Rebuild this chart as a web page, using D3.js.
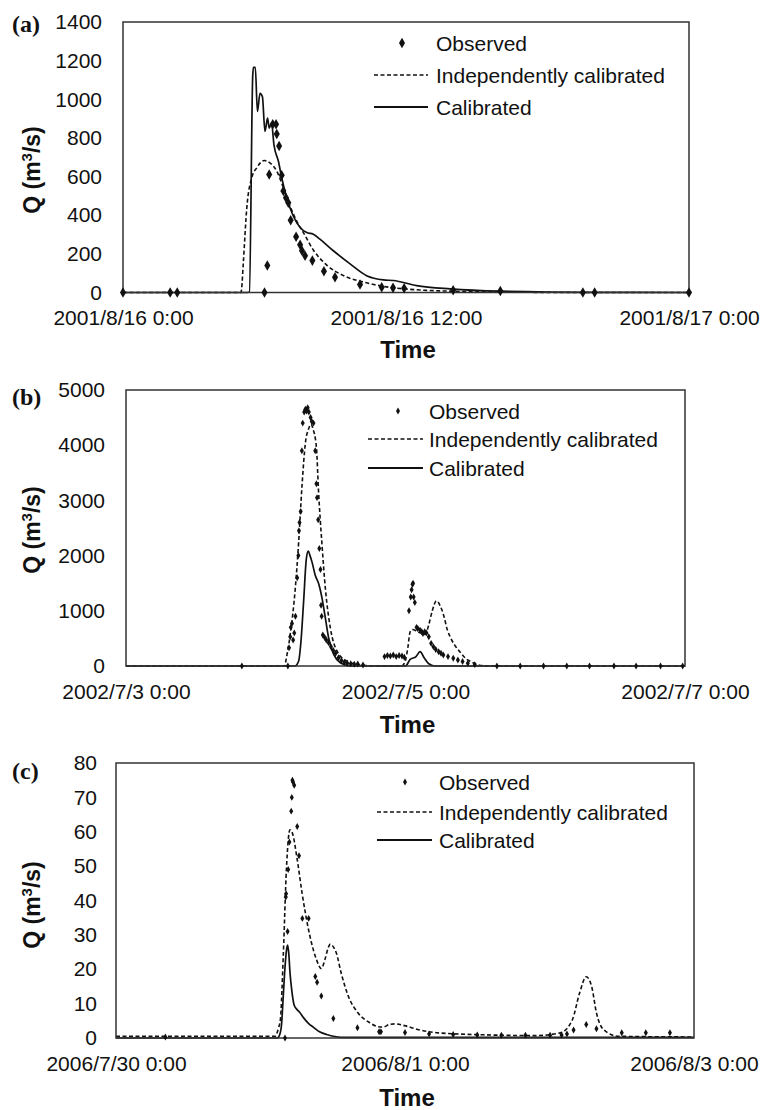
<!DOCTYPE html>
<html><head><meta charset="utf-8">
<script src="https://cdn.jsdelivr.net/npm/d3@7"></script>
<style>body{margin:0;background:#fff}svg{display:block}text{fill:#111}</style>
</head><body>
<script>
// ---------- Panel (a) ----------
const aTickLabels = ["2001/8/16 0:00", "2001/8/16 12:00", "2001/8/17 0:00"];
const aTickHours = [0, 12, 24];
const aYTicks = [0, 200, 400, 600, 800, 1000, 1200, 1400];
const aObsT = [0, 2.0, 2.3, 6.0, 6.12, 6.2, 6.35, 6.49, 6.52, 6.62, 6.73, 6.8, 6.91, 7.01, 7.11, 7.34, 7.51, 7.59, 7.72, 8.03, 8.52, 8.99, 10.05, 10.97, 11.45, 11.92, 14.0, 16.0, 19.5, 20.0, 24];
const aObsQ = [0, 0, 0, 0, 140, 611, 871, 871, 820, 758, 607, 525, 490, 465, 374, 288, 247, 216, 190, 165, 110, 79, 41, 27, 24, 22, 12, 8, 0, 0, 0];
const aIndT = [0, 5.0, 5.03, 5.1, 5.25, 5.46, 5.67, 5.99, 6.23, 6.52, 6.8, 7.08, 7.36, 7.65, 8.07, 8.64, 9.34, 10.33, 11.18, 12.45, 13.87, 16, 20, 24];
const aIndQ = [0, 0, 19, 150, 439, 594, 645, 683, 671, 628, 542, 448, 371, 310, 220, 142, 88, 50, 29, 14, 7, 2, 0, 0];
const aCalT = [0, 5.3, 5.36, 5.5, 5.53, 5.61, 5.7, 5.81, 5.91, 6.02, 6.13, 6.2, 6.3, 6.4, 6.59, 6.73, 6.94, 7.22, 7.51, 7.79, 8.07, 8.35, 8.92, 9.63, 10.33, 11.04, 11.46, 12.45, 13.87, 16, 20, 24];
const aCalQ = [0, 0, 2, 1120, 1165, 1165, 937, 1031, 1014, 834, 902, 851, 877, 765, 679, 594, 490, 396, 336, 310, 302, 276, 216, 148, 87, 65, 62, 36, 19, 7, 1, 0];

// ---------- Panel (b) ----------
const bTickLabels = ["2002/7/3 0:00", "2002/7/5 0:00", "2002/7/7 0:00"];
const bTickHours = [0, 48, 96];
const bYTicks = [0, 1000, 2000, 3000, 4000, 5000];
const bObsT = [19.9, 27.8, 28.0, 28.2, 28.3, 28.5, 28.7, 28.9, 29.1, 29.4, 29.6, 29.7, 29.8, 30.0, 30.2, 30.35, 30.6, 30.8, 31.0, 31.2, 31.4, 31.7, 31.9, 32.2, 32.5, 32.7, 32.8, 33.0, 33.2, 33.4, 33.5, 33.6, 33.8, 34.1, 34.4, 34.8, 35.2, 35.6, 36.0, 36.5, 37.0, 37.5, 38.0, 38.6, 39.2, 39.8, 40.7,
  44.4, 44.9, 45.4, 45.9, 46.4, 46.9, 47.4, 47.8, 48.6, 48.9, 49.05, 49.2, 49.3, 49.4, 49.6, 49.9, 50.1, 50.5, 50.8, 51.0, 51.3, 51.6, 52.0, 52.4, 52.8, 53.2, 53.7, 54.1, 54.5, 55.3, 56.2, 57.0, 57.8, 58.7, 59.9, 63.7, 67.7, 71.7, 75.7, 79.6, 83.8, 87.6, 91.8, 95.6];
const bObsQ = [0, 0, 330, 530, 700, 770, 470, 600, 900, 1600, 2000, 2450, 2600, 2800, 3900, 4400, 4600, 4650, 4620, 4680, 4600, 4500, 4430, 4400, 3900, 3300, 3050, 2650, 2130, 1750, 1100, 900, 560, 520, 470, 420, 350, 280, 230, 150, 100, 70, 50, 40, 30, 35, 20,
  170, 190, 180, 200, 170, 190, 180, 160, 1000, 1250, 1380, 1480, 1500, 1250, 1150, 700, 680, 650, 620, 590, 620, 600, 530, 410, 350, 300, 260, 230, 200, 170, 140, 110, 80, 50, 25, 0, 0, 0, 0, 0, 0, 0, 0, 0];
const bIndT = [0, 27.3, 27.35, 28.2, 29.07, 29.65, 30.22, 30.8, 31.37, 31.8, 32.1, 32.69, 33.08, 33.67, 34.24, 35.1, 36.25, 37.97, 40.8, 43, 47.3, 47.6, 48.0, 48.4, 48.8, 49.2, 49.8, 50.5, 51.4, 52.0, 52.6, 53.3, 54.0, 54.6, 55.2, 55.8, 56.5, 57.4, 58.3, 59.2, 60.2, 61.5, 63, 96];
const bIndQ = [0, 0, 30, 568, 1403, 2240, 3256, 4032, 4300, 4380, 4300, 3973, 3136, 2181, 1403, 686, 269, 90, 12, 0, 0, 20, 100, 330, 620, 660, 640, 600, 570, 750, 1000, 1180, 1080, 900, 650, 500, 370, 250, 140, 80, 30, 5, 0, 0];
const bCalT = [0, 29.0, 29.65, 30.05, 30.5, 30.97, 31.3, 31.6, 31.95, 32.5, 33.08, 33.67, 34.24, 34.8, 35.67, 36.8, 38.5, 48, 48.8, 49.8, 50.5, 51.2, 52, 53, 96];
const bCalQ = [0, 0, 90, 448, 1165, 1940, 2080, 2000, 1882, 1643, 1493, 1224, 866, 507, 210, 60, 0, 0, 120, 170, 260, 150, 40, 0, 0];

// ---------- Panel (c) ----------
const cTickLabels = ["2006/7/30 0:00", "2006/8/1 0:00", "2006/8/3 0:00"];
const cTickHours = [0, 48, 96];
const cYTicks = [0, 10, 20, 30, 40, 50, 60, 70, 80];
const cObsT = [8.2, 28.07, 28.2, 28.25, 28.5, 28.6, 28.8, 29.1, 29.2, 29.3, 29.4, 29.6, 30.1, 30.4, 30.95, 32.0, 33.1, 33.4, 34.1, 36.1, 40.1, 43.7, 44.0, 48.0, 52.0, 56.0, 60.0, 64.0, 68.0, 72.1, 74.0, 74.9, 76.0, 78.1, 79.8, 84.0, 88.0, 92.0];
const cObsQ = [0.3, 0, 41, 42, 31, 49, 57, 66, 70, 75, 74.5, 73.5, 61.5, 53, 34.8, 34.8, 17.9, 16.2, 12.2, 5.7, 3.0, 1.8, 1.8, 1.6, 1.2, 1.0, 0.9, 0.8, 0.8, 0.8, 0.9, 1.2, 2.3, 3.9, 2.7, 1.5, 1.5, 1.5];
const cIndT = [0, 26.4, 27.0, 27.3, 27.8, 28.3, 28.9, 29.3, 30.1, 30.9, 32.1, 33.3, 34.1, 34.7, 35.2, 35.6, 36.1, 36.6, 37.4, 38.6, 40.2, 42.2, 43.5, 44.4, 45.5, 46.5, 47.9, 50.3, 53.5, 61.6, 69.7, 73.8, 75.8, 77.0, 78.1, 79.0, 79.8, 81.0, 83.5, 96];
const cIndQ = [0.5, 0.5, 3, 5.3, 24.7, 49, 60.6, 59.6, 51.9, 42.2, 30.5, 22.8, 20.2, 22.8, 26, 27.3, 26.5, 24.7, 18.9, 12.1, 7.3, 4.4, 3.3, 3.2, 4.0, 4.1, 3.6, 2.4, 1.5, 0.9, 0.7, 1.5, 5.3, 13.1, 17.8, 15, 7.3, 2.4, 0.5, 0.3];
const cCalT = [0, 26.8, 27.2, 27.5, 27.8, 28.07, 28.35, 28.5, 28.7, 28.9, 29.2, 29.6, 30.0, 30.5, 31.1, 32.0, 32.8, 33.8, 35.0, 37.4, 96];
const cCalQ = [0, 0, 1, 4, 12.8, 20.6, 25.9, 27, 24.5, 19, 13.8, 9.5, 8.4, 7.5, 6.0, 4.2, 3.1, 1.8, 1.0, 0.2, 0.2];

const legendNames = ["Observed", "Independently calibrated", "Calibrated"];

const SANS = "'Liberation Sans', Arial, sans-serif";
const SERIF = "'Liberation Serif', 'Times New Roman', serif";

const svg = d3.select("body").append("svg").attr("width", 764).attr("height", 1110)
  .style("font-family", SANS);

function zip(t, q) { return t.map((d, i) => ({ t: d, q: q[i] })); }

function drawPanel(p) {
  const g = svg.append("g");
  const x = d3.scaleLinear().domain([0, p.span]).range([p.left, p.right]);
  const y = d3.scaleLinear().domain([0, p.ymax]).range([p.bottom, p.top]);
  const clipId = "clip" + p.tag;
  g.append("clipPath").attr("id", clipId).append("rect")
    .attr("x", p.left - 6).attr("y", p.top).attr("width", p.right - p.left + 12).attr("height", p.bottom - p.top + 6);

  const ya = g.append("g").attr("transform", `translate(${p.left},0)`)
    .call(d3.axisLeft(y).tickValues(p.yticks).tickSize(0).tickPadding(p.ypad).tickFormat(d3.format("d")));
  ya.select(".domain").remove();
  ya.selectAll("text").attr("font-size", 21).style("font-family", SANS).attr("fill", "#111");

  const xa = g.append("g").attr("transform", `translate(0,${p.bottom})`)
    .call(d3.axisBottom(x).tickValues(p.xticks).tickSize(0).tickPadding(18)
      .tickFormat((d, i) => p.xlabels[i]));
  xa.select(".domain").remove();
  xa.selectAll("text").attr("font-size", 21).style("font-family", SANS).attr("fill", "#111");

  const line = d3.line().x(d => x(d.t)).y(d => y(d.q)).curve(d3.curveMonotoneX);
  const plot = g.append("g").attr("clip-path", `url(#${clipId})`);
  plot.append("path").datum(zip(p.indT, p.indQ)).attr("d", line)
    .attr("fill", "none").attr("stroke", "#111").attr("stroke-width", 1.6).attr("stroke-dasharray", "4,2.5");
  plot.append("path").datum(zip(p.calT, p.calQ)).attr("d", line)
    .attr("fill", "none").attr("stroke", "#111").attr("stroke-width", 1.7);

  g.append("rect").attr("x", p.left).attr("y", p.top).attr("width", p.right - p.left).attr("height", p.bottom - p.top)
    .attr("fill", "none").attr("stroke", "#333").attr("stroke-width", 1.5);

  const sym = d3.symbol().type(d3.symbolDiamond).size(p.msize);
  g.append("g").selectAll("path").data(zip(p.obsT, p.obsQ)).join("path")
    .attr("d", sym).attr("transform", d => `translate(${x(d.t)},${y(d.q)})`).attr("fill", "#111");

  const L = p.legend;
  g.append("path").attr("d", sym).attr("transform", `translate(${L.mx},${L.y0})`).attr("fill", "#111");
  g.append("line").attr("x1", L.lx1).attr("x2", L.lx2).attr("y1", L.y1).attr("y2", L.y1)
    .attr("stroke", "#111").attr("stroke-width", 1.6).attr("stroke-dasharray", "4,2.5");
  g.append("line").attr("x1", L.lx1).attr("x2", L.lx2).attr("y1", L.y2).attr("y2", L.y2)
    .attr("stroke", "#111").attr("stroke-width", 1.8);
  [L.y0, L.y1, L.y2].forEach((yy, i) => {
    g.append("text").attr("x", L.tx).attr("y", yy).attr("dy", "0.36em").attr("font-size", 21).text(legendNames[i]);
  });

  g.append("text").attr("x", (p.left + p.right) / 2 + 2).attr("y", p.timeY).attr("text-anchor", "middle")
    .attr("font-size", 24).attr("font-weight", "bold").text("Time");
  const q = g.append("text").attr("transform", `translate(${p.qx},${p.qy}) rotate(-90)`).attr("text-anchor", "middle")
    .attr("font-size", 23).attr("font-weight", "bold");
  q.append("tspan").text("Q (m");
  q.append("tspan").attr("font-size", 15).attr("dy", -8).text("3");
  q.append("tspan").attr("dy", 8).text("/s)");
  g.append("text").attr("x", 12).attr("y", p.tagY).attr("font-size", 24).attr("font-weight", "bold")
    .style("font-family", SERIF).text(`(${p.tag})`);
}

drawPanel({ tag: "a", left: 123, right: 689, top: 22, bottom: 292.5, span: 24, ymax: 1400, yticks: aYTicks, ypad: 21,
  xticks: aTickHours, xlabels: aTickLabels, obsT: aObsT, obsQ: aObsQ, indT: aIndT, indQ: aIndQ, calT: aCalT, calQ: aCalQ,
  msize: 32, legend: { mx: 402, tx: 436, lx1: 374, lx2: 428, y0: 43, y1: 75, y2: 107 },
  timeY: 358, qx: 40, qy: 170, tagY: 32 });

drawPanel({ tag: "b", left: 126, right: 685, top: 390, bottom: 666, span: 96, ymax: 5000, yticks: bYTicks, ypad: 21,
  xticks: bTickHours, xlabels: bTickLabels, obsT: bObsT, obsQ: bObsQ, indT: bIndT, indQ: bIndQ, calT: bCalT, calQ: bCalQ,
  msize: 14, legend: { mx: 398, tx: 429, lx1: 368, lx2: 423, y0: 411, y1: 439, y2: 468 },
  timeY: 733, qx: 40, qy: 530, tagY: 405 });

drawPanel({ tag: "c", left: 116, right: 694, top: 763, bottom: 1038, span: 96, ymax: 80, yticks: cYTicks, ypad: 19,
  xticks: cTickHours, xlabels: cTickLabels, obsT: cObsT, obsQ: cObsQ, indT: cIndT, indQ: cIndQ, calT: cCalT, calQ: cCalQ,
  msize: 14, legend: { mx: 405, tx: 439, lx1: 377, lx2: 432, y0: 782, y1: 812, y2: 840 },
  timeY: 1106, qx: 40, qy: 905, tagY: 779 });
</script>
</body></html>
